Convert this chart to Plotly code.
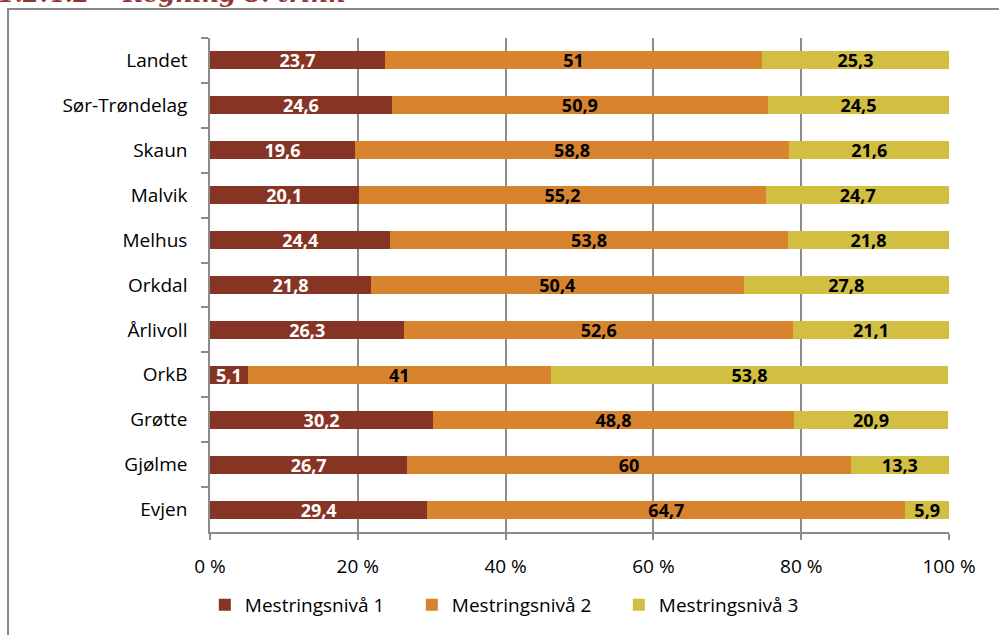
import plotly.graph_objects as go

# --- data
steder = ["Landet", "Sør-Trøndelag", "Skaun", "Malvik", "Melhus", "Orkdal",
          "Årlivoll", "OrkB", "Grøtte", "Gjølme", "Evjen"]
nivaa1 = [23.7, 24.6, 19.6, 20.1, 24.4, 21.8, 26.3, 5.1, 30.2, 26.7, 29.4]
nivaa2 = [51, 50.9, 58.8, 55.2, 53.8, 50.4, 52.6, 41, 48.8, 60, 64.7]
nivaa3 = [25.3, 24.5, 21.6, 24.7, 21.8, 27.8, 21.1, 53.8, 20.9, 13.3, 5.9]
x_ticks = [0, 20, 40, 60, 80, 100]
x_ticktext = ["0 %", "20 %", "40 %", "60 %", "80 %", "100 %"]

FONT = "'Open Sans', Lato, sans-serif"
GRID = "#8c8c8c"


def komma(v):
    return f"{v:g}".replace(".", ",")


series = [
    ("Mestringsnivå 1", nivaa1, "#863424", "white"),
    ("Mestringsnivå 2", nivaa2, "#d8842e", "black"),
    ("Mestringsnivå 3", nivaa3, "#d2bf42", "black"),
]

fig = go.Figure()
for name, vals, color, txtcol in series:
    fig.add_trace(go.Bar(
        y=steder, x=vals, name=name, orientation="h",
        marker=dict(color=color, line=dict(width=0)),
        width=0.4,
        text=[komma(v) for v in vals],
        textposition="inside", insidetextanchor="middle",
        textangle=0, constraintext="none",
        textfont=dict(family=FONT, size=18, color=txtcol, weight="bold"),
        hoverinfo="x+y+name",
    ))

fig.update_layout(
    barmode="stack",
    width=999, height=635,
    margin=dict(l=210, r=50, t=38, b=102),
    paper_bgcolor="white", plot_bgcolor="white",
    font=dict(family=FONT, size=19, color="black"),
    showlegend=True,
    legend=dict(orientation="h", x=-0.007, xanchor="left", y=-0.145, yanchor="middle",
                font=dict(size=19), itemwidth=30, traceorder="normal",
                entrywidth=162, entrywidthmode="pixels"),
    xaxis=dict(range=[0, 100], tickvals=x_ticks, ticktext=x_ticktext,
               showgrid=True, gridcolor=GRID, gridwidth=1.5,
               showline=True, linecolor=GRID, linewidth=1.5,
               ticks="outside", ticklen=6, tickcolor=GRID, tickwidth=1.5,
               zeroline=False, ticklabelstandoff=10),
    yaxis=dict(autorange="reversed", showline=True, linecolor=GRID, linewidth=1.5,
               ticks="outside", tickson="boundaries", ticklen=7, tickcolor=GRID,
               tickwidth=1.5, showgrid=False, ticklabelstandoff=17),
)

# outer frame (only left and top edges visible in the crop)
fig.add_shape(type="rect", xref="paper", yref="paper",
              x0=-0.2733, x1=1.2, y0=-0.5, y1=1.0586,
              line=dict(color="#888888", width=2))

# heading cut off at the top edge
fig.add_annotation(text="<b><i>1.2.4.2    Regning 8. trinn</i></b>", xref="paper", yref="paper",
                   x=-0.29, xanchor="left", y=1.0586, yanchor="bottom", yshift=-1,
                   showarrow=False,
                   font=dict(family="'DejaVu Serif', serif", size=24, color="#943634"))

fig.write_html("out.html", config={"displayModeBar": False},
               post_script="document.body.style.margin='0';")
